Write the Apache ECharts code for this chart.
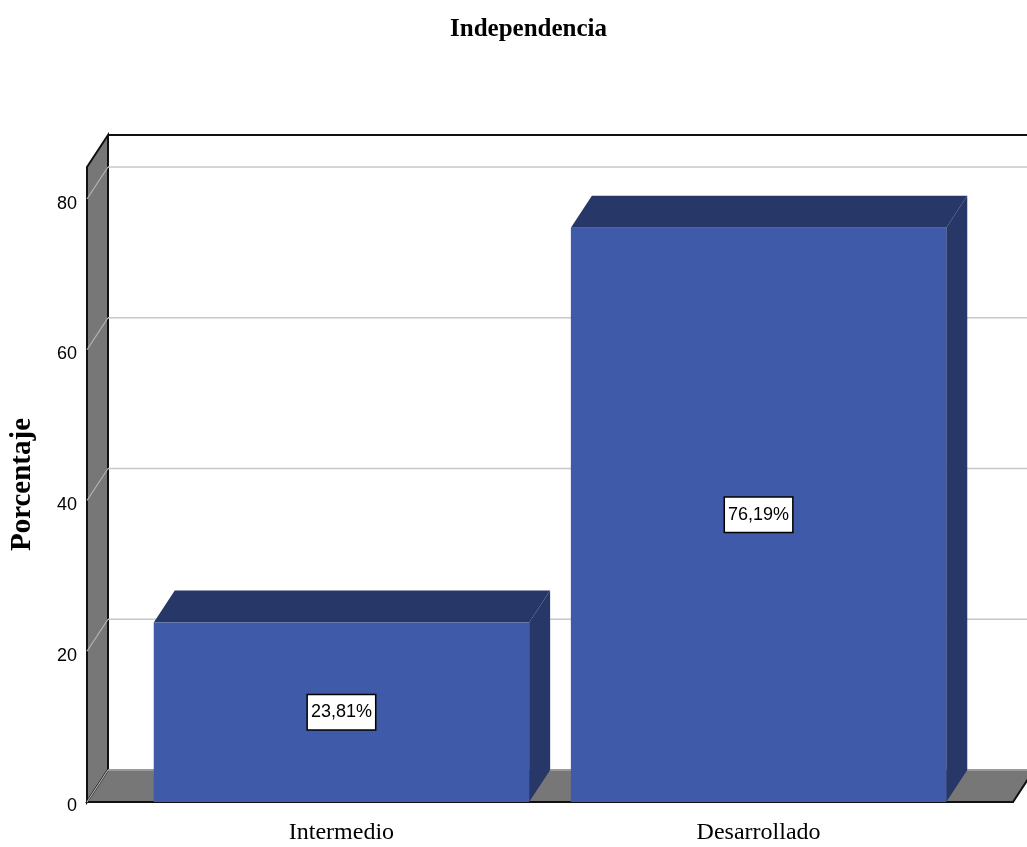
<!DOCTYPE html>
<html>
<head>
<meta charset="utf-8">
<script src="https://cdn.jsdelivr.net/npm/echarts@6/dist/echarts.min.js"></script>
<style>
html,body{margin:0;padding:0;background:#fff;}
#main{width:1027px;height:847px;}
</style>
</head>
<body>
<div id="main"></div>
<script>
// ---- data ----
const categories = ['Intermedio', 'Desarrollado'];
const percentages = [23.81, 76.19];
const yTicks = [0, 20, 40, 60, 80];
const chartTitle = 'Independencia';
const yAxisTitle = 'Porcentaje';

// ---- layout / style constants ----
const DX = 21, DY = -32;           // 3D depth offset in px
const X_MIN = -0.61, X_MAX = 1.61;  // x extent (category index units)
const Y_MAX = 84.25;
const BAR_W = 0.9;
const FRONT = '#3E5AA8', DARK = '#263768', WALL = '#777777';

function fmt(v) { return v.toFixed(2).replace('.', ',') + '%'; }

const chart = echarts.init(document.getElementById('main'));

const option = {
  animation: false,
  backgroundColor: '#ffffff',
  title: {
    text: chartTitle,
    left: 445, top: 12,
    textStyle: { fontFamily: 'Liberation Serif', fontWeight: 'bold', fontSize: 25, color: '#000' }
  },
  grid: { left: 86, right: 14, top: 167, bottom: 45 },
  xAxis: {
    type: 'value', min: X_MIN, max: X_MAX,
    splitLine: { show: false },
    axisLine: { show: true, lineStyle: { color: '#000', width: 2 } },
    axisTick: { show: false },
    axisLabel: {
      customValues: categories.map((c, i) => i),
      formatter: v => categories[Math.round(v)] || '',
      margin: 19,
      fontFamily: 'Liberation Serif', fontSize: 24, color: '#000'
    }
  },
  yAxis: {
    type: 'value', min: 0, max: Y_MAX, interval: 20,
    name: yAxisTitle, nameLocation: 'middle', nameGap: 50,
    nameTextStyle: { fontFamily: 'Liberation Serif', fontWeight: 'bold', fontSize: 29, color: '#000', padding: [0, 0, 0, 0] },
    splitLine: { show: false },
    axisLine: { show: true, lineStyle: { color: '#000', width: 2 } },
    axisTick: { show: false },
    axisLabel: {
      customValues: yTicks,
      margin: 10,
      formatter: '{a|{value}}',
      rich: { a: { fontFamily: 'Liberation Sans', fontSize: 18, color: '#000', padding: [9, 0, 0, 0] } }
    }
  },
  series: [
    {
      // walls and floor
      type: 'custom', z: 1, clip: false, silent: true,
      data: [[0, 0]],
      encode: { x: 0, y: 1 },
      renderItem: function (params, api) {
        const p0 = api.coord([X_MIN, 0]);
        const pt = api.coord([X_MIN, Y_MAX]);
        const p1 = api.coord([X_MAX, 0]);
        const far = p1[0] + DX + 60;
        return {
          type: 'group',
          children: [
            { type: 'rect', shape: { x: p0[0] + DX, y: pt[1] + DY, width: far - p0[0] - DX, height: p0[1] - pt[1] },
              style: { fill: '#ffffff' } },
            { type: 'polygon', shape: { points: [pt, [pt[0] + DX, pt[1] + DY], [p0[0] + DX, p0[1] + DY], p0] },
              style: { fill: WALL, stroke: '#111', lineWidth: 2 } },
            { type: 'polygon', shape: { points: [p0, [p0[0] + DX, p0[1] + DY], [p1[0] + DX, p1[1] + DY], p1] },
              style: { fill: WALL, stroke: '#111', lineWidth: 2 } },
            { type: 'line', shape: { x1: pt[0] + DX, y1: pt[1] + DY, x2: far, y2: pt[1] + DY },
              style: { stroke: '#111', lineWidth: 2 } }
          ]
        };
      }
    },
    {
      // grid lines on back wall and side wall
      type: 'custom', z: 2, clip: false, silent: true,
      data: yTicks.map(v => [X_MIN, v]),
      encode: { x: 0, y: 1 },
      renderItem: function (params, api) {
        const f = api.coord([X_MIN, api.value(1)]);
        const p1 = api.coord([X_MAX, 0]);
        const far = p1[0] + DX + 60;
        return {
          type: 'group',
          children: [
            { type: 'line', shape: { x1: f[0], y1: f[1], x2: f[0] + DX, y2: f[1] + DY },
              style: { stroke: '#b4b4b4', lineWidth: 1.2 } },
            { type: 'line', shape: { x1: f[0] + DX, y1: f[1] + DY, x2: far, y2: f[1] + DY },
              style: { stroke: '#c8c8c8', lineWidth: 1.5 } }
          ]
        };
      }
    },
    {
      // 3D bars
      type: 'custom', z: 3, clip: false,
      data: percentages.map((v, i) => [i, v]),
      encode: { x: 0, y: 1 },
      renderItem: function (params, api) {
        const i = api.value(0), v = api.value(1);
        const tl = api.coord([i - BAR_W / 2, v]);
        const br = api.coord([i + BAR_W / 2, 0]);
        const x0 = tl[0], y0 = tl[1], x1 = br[0], y1 = br[1];
        return {
          type: 'group',
          children: [
            { type: 'polygon', shape: { points: [[x0, y0], [x1, y0], [x1 + DX, y0 + DY], [x0 + DX, y0 + DY]] },
              style: { fill: DARK } },
            { type: 'polygon', shape: { points: [[x1, y0], [x1 + DX, y0 + DY], [x1 + DX, y1 + DY], [x1, y1]] },
              style: { fill: DARK } },
            { type: 'rect', shape: { x: x0, y: y0, width: x1 - x0, height: y1 - y0 },
              style: { fill: FRONT } },
            { type: 'text', x: (x0 + x1) / 2, y: (y0 + y1) / 2,
              style: {
                text: fmt(v), fill: '#000', fontFamily: 'Liberation Sans', fontSize: 18,
                align: 'center', verticalAlign: 'middle',
                backgroundColor: '#ffffff', borderColor: '#000', borderWidth: 1.5, padding: [8, 3]
              } }
          ]
        };
      }
    }
  ]
};
chart.setOption(option);
</script>
</body>
</html>
